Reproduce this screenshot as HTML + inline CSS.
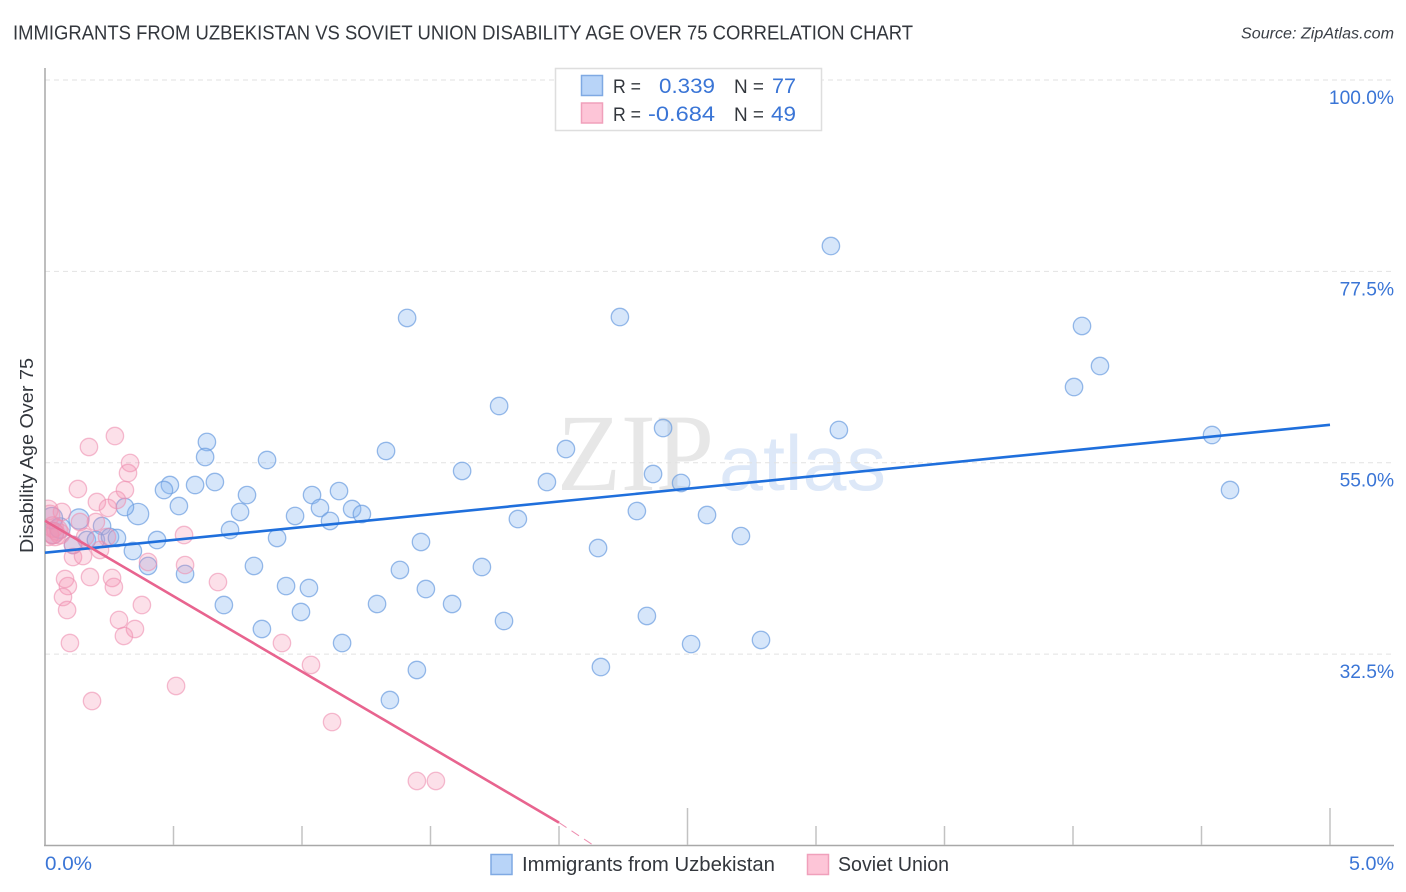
<!DOCTYPE html>
<html lang="en">
<head>
<meta charset="utf-8">
<title>Immigrants from Uzbekistan vs Soviet Union Disability Age Over 75 Correlation Chart</title>
<style>
html,body{margin:0;padding:0;background:#fff;width:1406px;height:892px;overflow:hidden}
svg{display:block;font-family:"Liberation Sans",sans-serif}
</style>
</head>
<body>
<svg id="chart" width="1406" height="892" viewBox="0 0 1406 892" xmlns="http://www.w3.org/2000/svg">
  <defs>
    <clipPath id="plot-clip"><rect x="45" y="68" width="1349" height="778"/></clipPath>
  </defs>
  <rect x="0" y="0" width="1406" height="892" fill="#ffffff"/>
  <text x="13" y="39.500" font-size="20" fill="#33373d" textLength="900" lengthAdjust="spacingAndGlyphs">IMMIGRANTS FROM UZBEKISTAN VS SOVIET UNION DISABILITY AGE OVER 75 CORRELATION CHART</text>
  <text x="1241" y="38.500" font-size="15.500" font-style="italic" fill="#3a3f47" textLength="153" lengthAdjust="spacingAndGlyphs">Source: ZipAtlas.com</text>

  <g>
    <text x="557" y="490" font-family="'Liberation Serif',serif" font-size="110" fill="#e7e7e7" textLength="157" lengthAdjust="spacingAndGlyphs">ZIP</text>
    <text x="719" y="490" font-size="78" fill="#dde8f8" textLength="167" lengthAdjust="spacingAndGlyphs">atlas</text>
  </g>

  <g id="grid"></g>
  <g id="blue-points" clip-path="url(#plot-clip)"></g>
  <g id="pink-points" clip-path="url(#plot-clip)"></g>
  <g id="axes"></g>
  <g id="trends"></g>
  <g id="labels"></g>

  <text transform="translate(33,553) rotate(-90)" x="0" y="0" font-size="18.500" fill="#33373d" textLength="195" lengthAdjust="spacingAndGlyphs">Disability Age Over 75</text>

  <g>
    <rect x="555.500" y="68.500" width="266" height="62" fill="#ffffff" stroke="#dedede" stroke-width="1.500"/>
    <rect x="581.500" y="75.500" width="21" height="20" fill="#b8d4f8" stroke="#7fa9e3" stroke-width="1.500"/>
    <rect x="581.500" y="103" width="21" height="20" fill="#fdc5d7" stroke="#f0a0bb" stroke-width="1.500"/>
    <text x="613" y="93" font-size="19" fill="#33373d" textLength="28" lengthAdjust="spacingAndGlyphs">R =</text>
    <text x="659" y="93" font-size="21" fill="#3a75d6" textLength="56" lengthAdjust="spacingAndGlyphs">0.339</text>
    <text x="734" y="93" font-size="19" fill="#33373d" textLength="30" lengthAdjust="spacingAndGlyphs">N =</text>
    <text x="772" y="93" font-size="21" fill="#3a75d6" textLength="24" lengthAdjust="spacingAndGlyphs">77</text>
    <text x="613" y="121" font-size="19" fill="#33373d" textLength="28" lengthAdjust="spacingAndGlyphs">R =</text>
    <text x="648" y="121" font-size="21" fill="#3a75d6" textLength="67" lengthAdjust="spacingAndGlyphs">-0.684</text>
    <text x="734" y="121" font-size="19" fill="#33373d" textLength="30" lengthAdjust="spacingAndGlyphs">N =</text>
    <text x="771" y="121" font-size="21" fill="#3a75d6" textLength="25" lengthAdjust="spacingAndGlyphs">49</text>
  </g>

  <g>
    <rect x="491" y="854.500" width="21" height="20" fill="#b8d4f8" stroke="#7fa9e3" stroke-width="1.500"/>
    <text x="522" y="871" font-size="20" fill="#33373d" textLength="253" lengthAdjust="spacingAndGlyphs">Immigrants from Uzbekistan</text>
    <rect x="807.500" y="854.500" width="21" height="20" fill="#fdc5d7" stroke="#f0a0bb" stroke-width="1.500"/>
    <text x="838" y="871" font-size="20" fill="#33373d" textLength="111" lengthAdjust="spacingAndGlyphs">Soviet Union</text>
  </g>
</svg>
<script>
const xTicks = [0, 0.5, 1, 1.5, 2, 2.5, 3, 3.5, 4, 4.5, 5];
const xMajorTicks = [2.5, 5];
const xEdgeLabels = ["0.0%", "5.0%"];
const yTicks = [100, 77.5, 55, 32.5];
const yTickLabels = ["100.0%", "77.5%", "55.0%", "32.5%"];

const blueX = [3.058,1.409,2.237,4.035,4.105,4.004,1.767,2.405,3.089,4.541,0.630,0.623,0.864,1.327,2.027,1.623,2.366,1.953,2.475,4.611,0.486,0.463,0.584,0.661,0.521,0.786,0.759,0.720,0.903,0.973,1.039,1.070,1.109,1.144,1.195,1.233,0.362,0.311,0.132,0.222,0.436,0.342,0.401,0.545,0.813,0.938,1.027,0.996,0.696,0.844,1.156,1.447,1.342,1.292,1.381,1.463,1.482,1.584,1.700,1.786,1.840,2.152,2.163,2.303,2.342,2.514,2.576,2.708,2.786,0.163,0.198,0.253,0.280,0.109,0.058,0.027,0.031];
const blueY = [80.48,72.02,72.13,71.08,66.37,63.90,61.67,59.08,58.85,58.26,57.44,55.67,55.32,56.38,56.61,54.03,53.67,52.73,52.62,51.79,52.38,51.79,52.38,52.73,49.91,51.20,49.21,47.09,46.15,48.74,51.20,49.68,48.15,51.67,49.56,48.97,48.97,49.79,48.38,47.56,45.91,44.62,42.86,41.92,42.86,40.50,40.27,37.45,38.27,35.45,33.80,30.63,27.10,38.39,42.39,45.68,40.15,38.39,42.74,36.39,48.38,44.97,30.98,49.32,36.98,33.68,48.85,46.38,34.16,45.91,45.91,46.27,46.15,45.33,47.32,48.50,46.74];
const blueWeight = [1,1,1,1,1,1,1,1,1,1, 1,1,1,1,1,1,1,1,1,1, 1,1,1,1,1,1,1,1,1,1, 1,1,1,1,1,1,1.5,1,1.35,1, 1,1,1,1,1,1,1,1,1,1, 1,1,1,1,1,1,1,1,1,1, 1,1,1,1,1,1,1,1,1,1, 1,1,1,1,1.4,1.5,1.5];

const pinkX = [0.272,0.171,0.331,0.323,0.311,0.128,0.202,0.280,0.245,0.198,0.136,0.541,0.401,0.545,0.673,0.078,0.089,0.175,0.261,0.268,0.070,0.086,0.377,0.288,0.350,0.307,0.097,0.922,1.035,0.510,0.183,1.117,1.447,1.521,0.109,0.109,0.148,0.214,0.241,0.066,0.012,0.019,0.031,0.039,0.031,0.047,0.012,0.156,0.058];
const pinkY = [58.14,56.85,54.97,53.79,51.79,51.91,50.38,50.62,49.68,48.03,48.03,46.50,43.33,42.97,40.97,41.33,40.50,41.56,41.45,40.39,39.21,37.68,38.27,36.51,35.45,34.63,33.80,33.80,31.22,28.75,26.98,24.51,17.58,17.58,45.33,43.91,44.03,44.74,46.27,49.21,49.44,48.85,46.74,46.50,47.44,47.09,46.50,46.27,46.62];
const pinkWeight = [1,1,1,1,1,1,1,1,1,1, 1,1,1,1,1,1,1,1,1,1, 1,1,1,1,1,1,1,1,1,1, 1,1,1,1,1,1,1,1,1,1, 1.3,1.3,1.5,1.5,1.4,1.4,1.5,1,1.3];

const blueTrendX = [0, 5];
const blueTrendY = [44.42, 59.46];
const pinkTrendX = [0, 2];
const pinkTrendY = [48.18, 12.69];
const pinkDashX = [2, 2.13];
const pinkDashY = [12.69, 10.1];

const NS = "http://www.w3.org/2000/svg";
const xScale = function (v) { return 45 + v * 257; };
const yScale = function (v) { return 80 + (100 - v) * 8.505; };
const make = function (tag, attrs, parent) {
  const el = document.createElementNS(NS, tag);
  Object.keys(attrs).forEach(function (k) { el.setAttribute(k, attrs[k]); });
  parent.appendChild(el);
  return el;
};

const gridG = document.getElementById("grid");
const axesG = document.getElementById("axes");
const labelsG = document.getElementById("labels");
const blueG = document.getElementById("blue-points");
const pinkG = document.getElementById("pink-points");
const trendsG = document.getElementById("trends");

yTicks.forEach(function (t, i) {
  const line = make("line", {x1: 45, x2: 1394, y1: yScale(t), y2: yScale(t), stroke: "#e2e2e2", "stroke-width": 1, "stroke-dasharray": "5 4"}, gridG);
  
  
  const label = make("text", {x: 1394, y: yScale(t) + 24, "font-size": 19.2, fill: "#3a75d6", "text-anchor": "end"}, labelsG);
  label.textContent = yTickLabels[i];
  
  
});

const yAxisLine = make("line", {x1: 45, x2: 45, y1: 68, y2: 846, stroke: "#a8a8a8", "stroke-width": 1.5}, axesG);


const xAxisLine = make("line", {x1: 44, x2: 1394, y1: 845.5, y2: 845.5, stroke: "#a8a8a8", "stroke-width": 1.5}, axesG);



xTicks.slice(1).forEach(function (t) {
  const top = xMajorTicks.indexOf(t) >= 0 ? 808 : 826;
  const tick = make("line", {x1: xScale(t), x2: xScale(t), y1: top, y2: 845, stroke: "#c2c2c2", "stroke-width": 1.5}, axesG);
  
  
});

const xLabelLeft = make("text", {x: xScale(xTicks[0]), y: 870, "font-size": 19.2, fill: "#3a75d6", textLength: 47, lengthAdjust: "spacingAndGlyphs"}, labelsG);
xLabelLeft.textContent = xEdgeLabels[0];


const xLabelRight = make("text", {x: 1349, y: 870, "font-size": 19.2, fill: "#3a75d6", textLength: 45, lengthAdjust: "spacingAndGlyphs"}, labelsG);
xLabelRight.textContent = xEdgeLabels[1];



blueX.forEach(function (v, i) {
  const c = make("circle", {cx: xScale(v), cy: yScale(blueY[i]), r: 8.7 * Math.sqrt(blueWeight[i]), fill: "#8ab8f0", "fill-opacity": 0.35, stroke: "#6b9de0", "stroke-opacity": 0.7, "stroke-width": 1.3}, blueG);
  
  
});

pinkX.forEach(function (v, i) {
  const c = make("circle", {cx: xScale(v), cy: yScale(pinkY[i]), r: 8.7 * Math.sqrt(pinkWeight[i]), fill: "#f48fb1", "fill-opacity": 0.28, stroke: "#ee8fb0", "stroke-opacity": 0.6, "stroke-width": 1.3}, pinkG);
  
  
});

const blueTrend = make("line", {x1: xScale(blueTrendX[0]), y1: yScale(blueTrendY[0]), x2: xScale(blueTrendX[1]), y2: yScale(blueTrendY[1]), stroke: "#1f6fdc", "stroke-width": 2.6}, trendsG);


const pinkTrend = make("line", {x1: xScale(pinkTrendX[0]), y1: yScale(pinkTrendY[0]), x2: xScale(pinkTrendX[1]), y2: yScale(pinkTrendY[1]), stroke: "#e8648f", "stroke-width": 2.6}, trendsG);


const pinkDash = make("line", {x1: xScale(pinkDashX[0]), y1: yScale(pinkDashY[0]), x2: xScale(pinkDashX[1]), y2: yScale(pinkDashY[1]), stroke: "#ee8fb0", "stroke-width": 1, "stroke-dasharray": "9 6"}, trendsG);


</script>
</body>
</html>
